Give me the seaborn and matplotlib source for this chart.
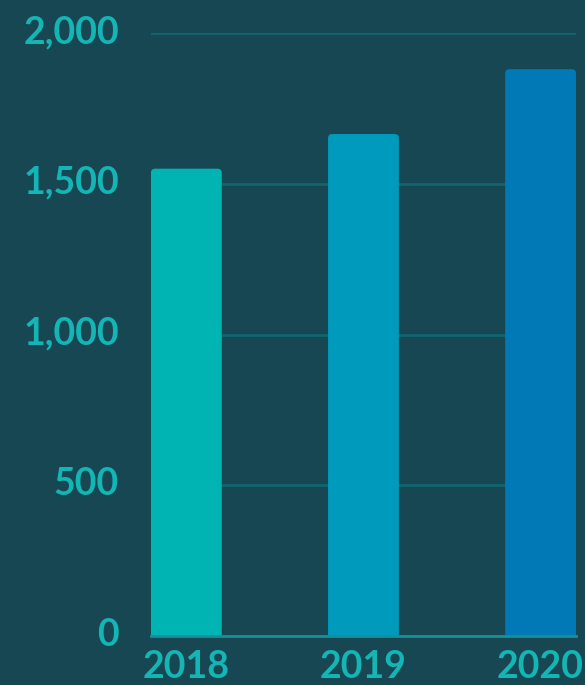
import matplotlib.pyplot as plt
import matplotlib.transforms as mtransforms
import pandas            as pd
import seaborn           as sns
from matplotlib.patches import FancyBboxPatch

# data
years  = ['2018', '2019', '2020']
values = [1550, 1665, 1880]
colors = ['#00b4b4', '#009abc', '#0079b6']
yticks = [0, 500, 1000, 1500, 2000]
ylabels = ['0', '500', '1,000', '1,500', '2,000']

bg     = '#184754'
txtcol = '#13b6b4'

df = pd.DataFrame({'year': years, 'value': values})

sns.set_style('dark')
plt.rcParams['font.family'] = ['Lato', 'DejaVu Sans']

fig = plt.figure(figsize=(5.85, 6.85), dpi=100, facecolor=bg)
ax = fig.add_axes([0.258, 0.0715, 0.7266, 0.8803])
ax.set_facecolor(bg)

sns.barplot(data=df, x='year', y='value', hue='year', palette=colors,
            width=0.4, saturation=1, legend=False, ax=ax, zorder=3)

# swap plain bars for slightly rounded ones
for p in list(ax.patches):
    x0, w, h = p.get_x(), p.get_width(), p.get_height()
    c = p.get_facecolor()
    p.remove()
    ax.add_patch(FancyBboxPatch((x0, -60), w, h + 60,
                                boxstyle='round,pad=0,rounding_size=0.025',
                                mutation_aspect=560, facecolor=c,
                                edgecolor='none', zorder=3))

ax.set_xlim(-0.2, 2.2)
ax.set_ylim(0, 2000)
ax.set_yticks(yticks, ylabels)
ax.yaxis.grid(True, color='#0f6570', linewidth=2, zorder=0)
ax.xaxis.grid(False)

for s in ['top', 'right', 'left']:
    ax.spines[s].set_visible(False)
ax.spines['bottom'].set_color('#178f96')
ax.spines['bottom'].set_linewidth(2)
ax.spines['bottom'].set_zorder(4)

ax.tick_params(axis='y', length=0, pad=23, labelsize=27, labelcolor=txtcol)
ax.tick_params(axis='x', length=0, pad=10, labelsize=27, labelcolor=txtcol)

# y labels sit a few pixels above their grid lines
shift = mtransforms.ScaledTranslation(0, 4 / 100, fig.dpi_scale_trans)
for lab in ax.get_yticklabels():
    lab.set_transform(lab.get_transform() + shift)
for lab in ax.get_xticklabels() + ax.get_yticklabels():
    lab.set_fontweight('bold')

ax.set_xlabel('')
ax.set_ylabel('')

fig.savefig('out.png', dpi=100, facecolor=bg)
